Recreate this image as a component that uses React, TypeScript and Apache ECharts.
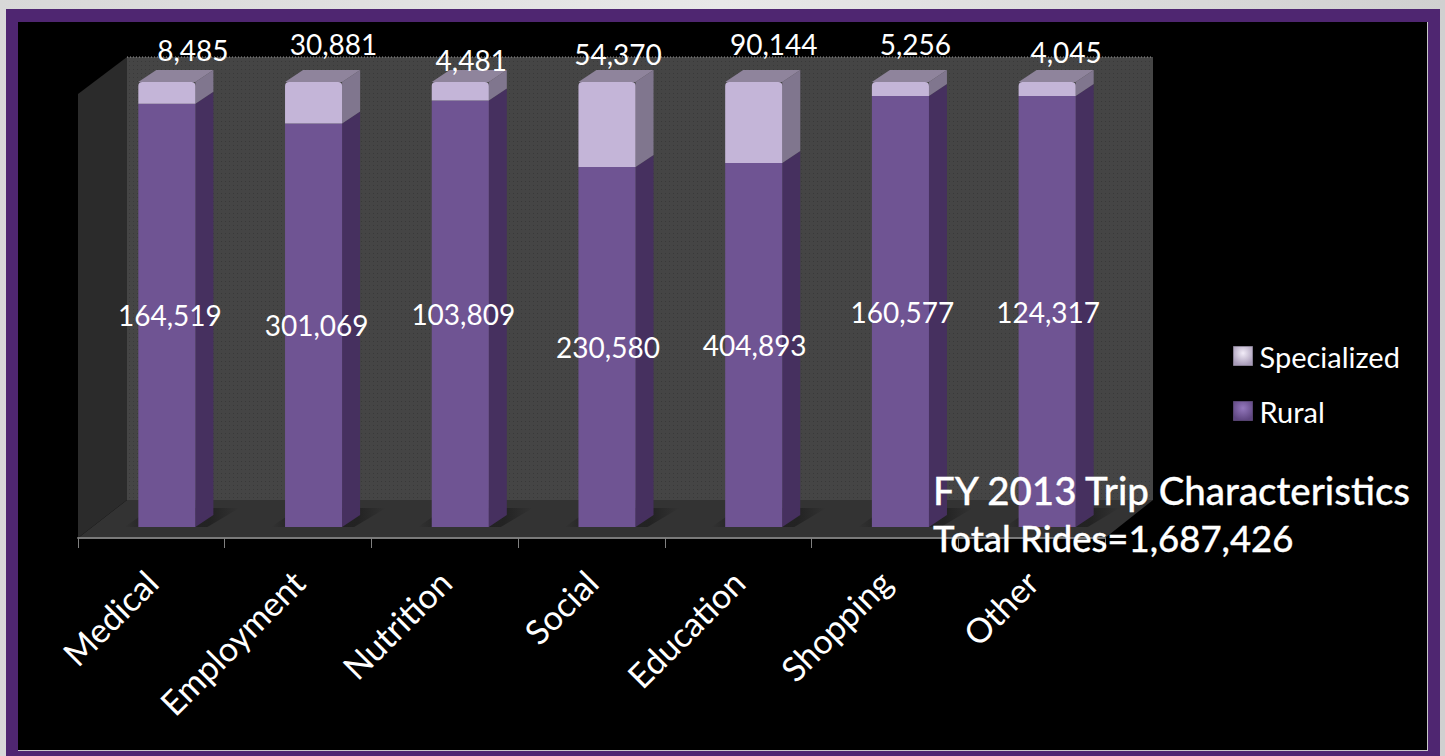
import React, { useEffect, useRef } from "react";
import * as echarts from "echarts";

const categories = ["Medical", "Employment", "Nutrition", "Social", "Education", "Shopping", "Other"];
const ruralRides = [164519, 301069, 103809, 230580, 404893, 160577, 124317];
const specializedRides = [8485, 30881, 4481, 54370, 90144, 5256, 4045];
const seriesNames = ["Rural", "Specialized"];
const titleLine = "FY 2013 Trip Characteristics";
const subtitleLine = "Total Rides=1,687,426";

// hand-placed label nudges of the source chart, in pixels from the bar's top centre
const specializedLabelNudge = [[26, -32], [20, -38], [11, -22], [11, -28], [20, -38], [15, -38], [19, -30]];
const ruralLabelNudge = [3, 3, 3, 1, 1, 2, 1];

const W = 1445;
const H = 756;
const GRID = { left: 78, top: 82, width: 1027, height: 445 };
const DX = 18;
const DY = -12;
const LABEL_FONT = "Lato";

const share = (i: number) => (100 * ruralRides[i]) / (ruralRides[i] + specializedRides[i]);
const fmt = (v: number) => v.toLocaleString("en-US");

function poly(points: number[][], fill: any, z2 = 0) {
  return { type: "polygon", z2, shape: { points }, style: { fill } };
}

function barBox(api: any) {
  const i = api.value(0);
  const [cx, y0] = api.coord([i, api.value(1)]);
  const [, y1] = api.coord([i, api.value(2)]);
  const band = api.size([1, 0])[0];
  const w = band * 0.389;
  const c = cx + 15.5;
  return { i, c, l: c - w / 2, r: c + w / 2, y0, y1, w };
}

function renderRural(_: any, api: any) {
  const { i, c, l, r, y0, y1, w } = barBox(api);
  const shadow = {
    type: "linear", x: 0, y: 0, x2: 1, y2: 0,
    colorStops: [
      { offset: 0, color: "rgba(24,24,24,0)" },
      { offset: 0.2, color: "rgba(24,24,24,0.6)" },
      { offset: 0.75, color: "rgba(24,24,24,0.6)" },
      { offset: 1, color: "rgba(24,24,24,0)" },
    ],
  };
  return {
    type: "group",
    children: [
      poly([[l - 14, y0], [l + 14, y0 - 19], [r + 44, y0 - 19], [r + 12, y0]], shadow),
      poly([[r, y0], [r + DX, y0 + DY], [r + DX, y1 + DY], [r, y1]], "#46305f"),
      { type: "rect", shape: { x: l, y: y1, width: w, height: y0 - y1 }, style: { fill: "#6f5493" } },
      {
        type: "text",
        z2: 10,
        style: {
          text: fmt(ruralRides[i]),
          x: c + ruralLabelNudge[i],
          y: (y0 + y1) / 2,
          align: "center",
          verticalAlign: "middle",
          fill: "#ffffff",
          fontSize: 28,
          fontFamily: LABEL_FONT,
        },
      },
    ],
  };
}

function renderSpecialized(_: any, api: any) {
  const { i, c, l, r, y0, y1, w } = barBox(api);
  const [nx, ny] = specializedLabelNudge[i];
  return {
    type: "group",
    children: [
      poly([[r, y0], [r + DX, y0 + DY], [r + DX, y1 + DY], [r, y1]], "#80768e"),
      poly([[l, y1], [l + DX, y1 + DY], [r + DX, y1 + DY], [r, y1]], "#8f849c"),
      { type: "rect", shape: { x: l, y: y1, width: w, height: y0 - y1, r: [4, 4, 0, 0] }, style: { fill: "#c4b5d8" } },
      {
        type: "text",
        z2: 10,
        style: {
          text: fmt(specializedRides[i]),
          x: c + nx,
          y: y1 + ny,
          align: "center",
          verticalAlign: "middle",
          fill: "#ffffff",
          fontSize: 28,
          fontFamily: LABEL_FONT,
        },
      },
    ],
  };
}

const swatch = (inner: string, outer: string) => ({
  type: "radial", x: 0.5, y: 0.35, r: 0.65,
  colorStops: [{ offset: 0, color: inner }, { offset: 1, color: outer }],
});

function wallPattern() {
  const c = document.createElement("canvas");
  c.width = 4;
  c.height = 4;
  const g = c.getContext("2d")!;
  g.fillStyle = "#454545";
  g.fillRect(0, 0, 4, 4);
  g.fillStyle = "#393939";
  g.fillRect(1, 1, 1, 1);
  return { image: c, repeat: "repeat" };
}

export default function App() {
  const ref = useRef<HTMLDivElement>(null);
  useEffect(() => {
    const chart = echarts.init(ref.current!, undefined, { renderer: "svg" });
    const idx = categories.map((_, i) => i);
    chart.setOption({
      animation: false,
      backgroundColor: {
        type: "linear", x: 0, y: 0, x2: 1, y2: 0,
        colorStops: [
          { offset: 0, color: "#d8d8d8" },
          { offset: 0.5, color: "#e8e8e8" },
          { offset: 1, color: "#d0d0d0" },
        ],
      },
      graphic: {
        elements: [
          { type: "rect", z: -10, shape: { x: 6, y: 9, width: 1434, height: 747 }, style: { fill: "#4f2671" } },
          { type: "rect", z: -9, shape: { x: 18, y: 22, width: 1410, height: 729 }, style: { fill: "#c8c8c8" } },
          { type: "rect", z: -8, shape: { x: 18, y: 22, width: 1409, height: 728 }, style: { fill: "#000000" } },
          { type: "polygon", z: -7, shape: { points: [[78, 94], [127, 57], [127, 500], [78, 538]] }, style: { fill: "#2b2b2b" } },
          { type: "rect", z: -7, shape: { x: 127, y: 57, width: 1026, height: 443 }, style: { fill: wallPattern() } },
          { type: "polygon", z: -7, shape: { points: [[78, 538], [127, 500], [1153, 500], [1105, 538]] }, style: { fill: "#333333" } },
          { type: "line", z: -6, shape: { x1: 127, y1: 57, x2: 1153, y2: 57 }, style: { stroke: "#999999", lineWidth: 1, lineDash: [1, 2] } },
        ],
      },
      title: {
        text: titleLine,
        subtext: subtitleLine,
        left: 933,
        top: 468,
        padding: 0,
        itemGap: 4,
        textStyle: { color: "#ffffff", fontFamily: "Lato", fontWeight: 500, fontSize: 38.5, lineHeight: 44, textBorderColor: "#ffffff", textBorderWidth: 0.3 },
        subtextStyle: { color: "#ffffff", fontFamily: "Lato", fontWeight: 500, fontSize: 36.5, lineHeight: 44, textBorderColor: "#ffffff", textBorderWidth: 0.3 },
      },
      legend: {
        orient: "vertical",
        left: 1233,
        top: 341,
        padding: 0,
        itemWidth: 19,
        itemHeight: 19,
        itemGap: 25,
        selectedMode: false,
        textStyle: { color: "#ffffff", fontFamily: LABEL_FONT, fontSize: 29, lineHeight: 30, padding: [0, 0, 0, 2] },
        data: [
          { name: "Specialized", icon: "rect", itemStyle: { color: swatch("#f2ecf8", "#a89bb8"), borderColor: "#b9aec8", borderWidth: 1, borderType: "dotted" } },
          { name: "Rural", icon: "rect", itemStyle: { color: swatch("#9478bd", "#5e4580"), borderColor: "#7d64a0", borderWidth: 1, borderType: "dotted" } },
        ],
      },
      grid: GRID,
      xAxis: {
        type: "category",
        data: categories,
        offset: 11,
        axisLine: { show: true, onZero: false, lineStyle: { color: "#7a7a7a", width: 2 } },
        axisTick: { show: true, length: 10, alignWithLabel: false, lineStyle: { color: "#808080", width: 1 } },
        axisLabel: { color: "#ffffff", fontFamily: LABEL_FONT, fontSize: 34, rotate: 45, margin: 38, interval: 0 },
      },
      yAxis: { type: "value", min: 0, max: 100, show: false },
      series: [
        {
          type: "custom",
          name: seriesNames[0],
          renderItem: renderRural,
          encode: { x: 0, y: [1, 2] },
          data: idx.map((i) => [i, 0, share(i)]),
          clip: false,
        },
        {
          type: "custom",
          name: seriesNames[1],
          renderItem: renderSpecialized,
          encode: { x: 0, y: [1, 2] },
          data: idx.map((i) => [i, share(i), 100]),
          clip: false,
        },
      ],
    });
    return () => chart.dispose();
  }, []);
  return <div ref={ref} style={{ position: "fixed", left: 0, top: 0, width: W, height: H }} />;
}
